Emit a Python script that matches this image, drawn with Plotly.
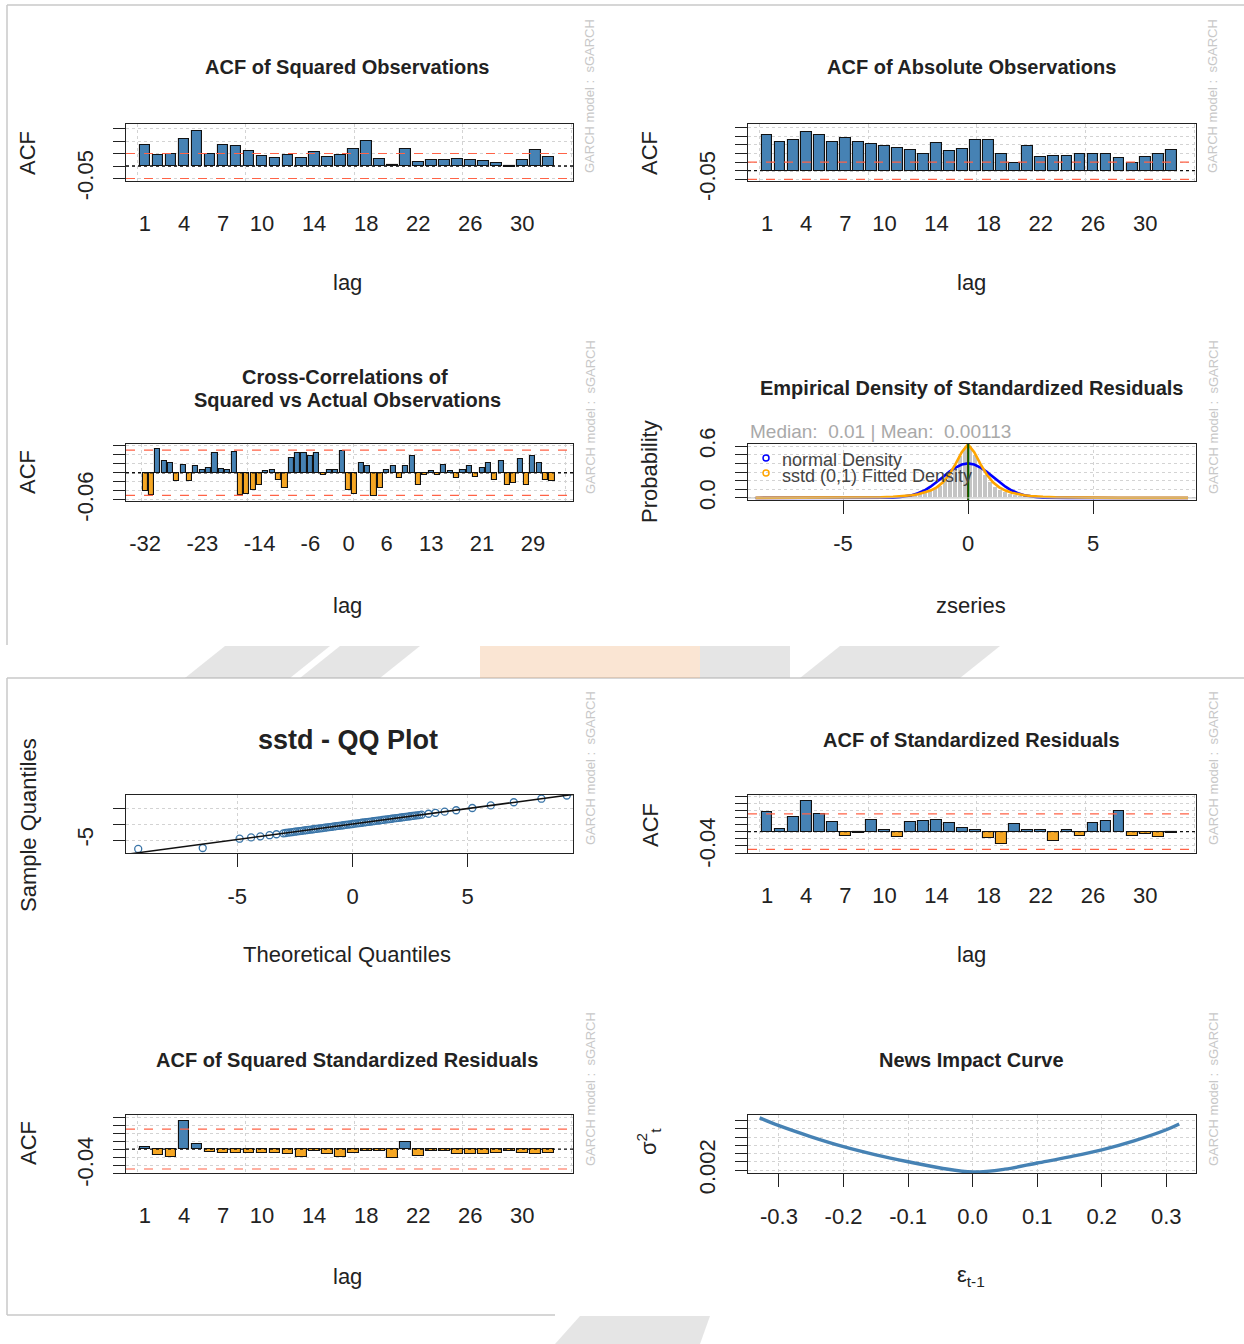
import plotly.graph_objects as go

W, H = 1244, 1344
FONT = "Liberation Sans, Arial, sans-serif"
TXT = "#222222"
STEEL = "#4682B4"
ORANGE = "#F5A623"
CONF = 0.05

# ---------------- data ----------------
lags = list(range(1, 33))
acf_sq_obs = [0.085, 0.046, 0.05, 0.11, 0.14, 0.05, 0.085, 0.08, 0.06, 0.04, 0.033, 0.046,
              0.033, 0.055, 0.037, 0.046, 0.068, 0.10, 0.03, 0.003, 0.07, 0.016, 0.026, 0.024,
              0.03, 0.024, 0.02, 0.013, -0.003, 0.026, 0.063, 0.037]
acf_abs_obs = [0.209, 0.164, 0.178, 0.226, 0.209, 0.164, 0.19, 0.164, 0.154, 0.144, 0.134, 0.119,
               0.095, 0.158, 0.115, 0.125, 0.178, 0.178, 0.099, 0.046, 0.144, 0.079, 0.085, 0.085,
               0.099, 0.099, 0.099, 0.075, 0.046, 0.079, 0.095, 0.119]
ccf_lags = list(range(-32, 33))
ccf_vals = [-0.041, -0.049, 0.053, 0.025, 0.022, -0.019, 0.018, -0.019, 0.014, 0.007, 0.011, 0.044,
            0.009, 0.007, 0.046, -0.049, -0.046, -0.037, -0.026, 0.004, 0.007, -0.015, -0.033, 0.033,
            0.044, 0.044, 0.037, 0.044, -0.004, 0.006, 0.007, 0.048, -0.037, -0.046, 0.022, 0.015,
            -0.052, -0.033, 0.007, 0.015, -0.011, 0.015, 0.037, -0.026, -0.005, 0.004, -0.005, 0.018,
            0.004, -0.011, 0.007, 0.015, -0.009, 0.011, 0.022, -0.015, 0.026, -0.026, -0.022, 0.03,
            -0.026, 0.037, 0.022, -0.015, -0.019]
acf_std_res = [0.055, 0.007, 0.04, 0.086, 0.05, 0.028, -0.012, -0.005, 0.033, 0.004, -0.015, 0.028,
               0.03, 0.033, 0.024, 0.01, 0.006, -0.017, -0.036, 0.021, 0.005, 0.004, -0.027, 0.004,
               -0.012, 0.024, 0.03, 0.057, -0.012, -0.006, -0.015, -0.003]
acf_sq_std_res = [0.004, -0.015, -0.02, 0.071, 0.012, -0.007, -0.01, -0.01, -0.009, -0.01, -0.009, -0.012,
                  -0.02, -0.006, -0.012, -0.02, -0.01, -0.005, -0.004, -0.022, 0.018, -0.017, -0.004, -0.005,
                  -0.012, -0.012, -0.012, -0.01, -0.004, -0.01, -0.012, -0.01]
acf_tick_labels = [1, 4, 7, 10, 14, 18, 22, 26, 30]
ccf_tick_labels = [-32, -23, -14, -6, 0, 6, 13, 21, 29]

hist_mid = [-2.9, -2.7, -2.5, -2.3, -2.1, -1.9, -1.7, -1.5, -1.3, -1.1, -0.9, -0.7, -0.5, -0.3, -0.1,
            0.1, 0.3, 0.5, 0.7, 0.9, 1.1, 1.3, 1.5, 1.7, 1.9, 2.1, 2.3, 2.5, 2.7, 2.9]
hist_dens = [0.01, 0.012, 0.018, 0.025, 0.03, 0.04, 0.055, 0.075, 0.10, 0.14, 0.20, 0.27, 0.36, 0.48, 0.58,
             0.60, 0.50, 0.37, 0.27, 0.19, 0.13, 0.095, 0.07, 0.05, 0.038, 0.028, 0.02, 0.015, 0.01, 0.008]
dens_x = [-8.5, -6, -4, -3.5, -3, -2.75, -2.5, -2.25, -2, -1.75, -1.5, -1.25, -1, -0.75, -0.5, -0.25, 0,
          0.25, 0.5, 0.75, 1, 1.25, 1.5, 1.75, 2, 2.25, 2.5, 2.75, 3, 3.5, 4, 6, 8.8]
normal_dens = [0, 0, 0.0001, 0.0009, 0.004, 0.009, 0.018, 0.032, 0.054, 0.086, 0.13, 0.183, 0.242, 0.301,
               0.352, 0.387, 0.399, 0.387, 0.352, 0.301, 0.242, 0.183, 0.13, 0.086, 0.054, 0.032, 0.018,
               0.009, 0.004, 0.0009, 0.0001, 0, 0]
sstd_dens = [0.0003, 0.001, 0.005, 0.008, 0.013, 0.017, 0.023, 0.031, 0.043, 0.06, 0.085, 0.122, 0.18,
             0.27, 0.39, 0.53, 0.62, 0.53, 0.39, 0.27, 0.18, 0.122, 0.085, 0.06, 0.043, 0.031, 0.023,
             0.017, 0.013, 0.008, 0.005, 0.001, 0.0003]
z_mean, z_median = 0.00113, 0.01

qq_theo = [-9.3, -6.5, -4.9, -4.4, -4.0, -3.6, -3.3,
           -3.0, -2.9, -2.8, -2.7, -2.6, -2.5, -2.4, -2.3, -2.2, -2.1, -2.0, -1.9, -1.8, -1.7, -1.6,
           -1.5, -1.4, -1.3, -1.2, -1.1, -1.0, -0.9, -0.8, -0.7, -0.6, -0.5, -0.4, -0.3, -0.2, -0.1,
           0.0, 0.1, 0.2, 0.3, 0.4, 0.5, 0.6, 0.7, 0.8, 0.9, 1.0, 1.1, 1.2, 1.3, 1.4, 1.5, 1.6, 1.7,
           1.8, 1.9, 2.0, 2.1, 2.2, 2.3, 2.4, 2.5, 2.6, 2.7, 2.8, 2.9, 3.0,
           3.3, 3.6, 4.0, 4.5, 5.2, 6.0, 7.0, 8.2, 9.3]
qq_sample = [-7.8, -7.5, -4.6, -4.2, -3.85, -3.5, -3.2,
             -2.92, -2.81, -2.71, -2.60, -2.52, -2.41, -2.32, -2.22, -2.13, -2.02, -1.94, -1.83, -1.74,
             -1.64, -1.55, -1.45, -1.35, -1.26, -1.16, -1.06, -0.97, -0.87, -0.77, -0.68, -0.58, -0.48,
             -0.39, -0.29, -0.19, -0.10, 0.00, 0.10, 0.19, 0.29, 0.39, 0.48, 0.58, 0.68, 0.77, 0.87,
             0.97, 1.06, 1.16, 1.26, 1.35, 1.45, 1.55, 1.64, 1.74, 1.83, 1.93, 2.03, 2.12, 2.22, 2.31,
             2.42, 2.51, 2.61, 2.70, 2.80, 2.90,
             3.2, 3.5, 3.85, 4.3, 5.0, 5.8, 6.8, 7.9, 8.9]

nic_eps = [-0.33, -0.3, -0.25, -0.2, -0.15, -0.1, -0.05, 0, 0.05, 0.1, 0.15, 0.2, 0.25, 0.3, 0.32]
nic_sigma2 = [0.0147, 0.0128, 0.0101, 0.0077, 0.0057, 0.0040, 0.0025, 0.0015, 0.0022, 0.0037, 0.0052,
              0.0069, 0.0091, 0.0118, 0.0132]

# ---------------- layout helpers ----------------
boxes = {
    1: ((126, 573), (124, 181)),
    2: ((748, 1196), (124, 181)),
    3: ((126, 573), (444, 501)),
    4: ((748, 1196), (444, 500)),
    5: ((126, 573), (795, 853)),
    6: ((748, 1196), (795, 853)),
    7: ((126, 573), (1115, 1173)),
    8: ((748, 1196), (1115, 1173)),
}


def px(x):
    return x / W


def py(y):
    return 1 - y / H


def acf_yrange(vals):
    lo = min([-CONF] + vals)
    hi = max([CONF] + vals)
    return [1.2 * lo, 1.2 * hi]


def quantile(vals, q):
    s = sorted(vals)
    pos = q * (len(s) - 1)
    i = int(pos)
    f = pos - i
    return s[i] + (s[min(i + 1, len(s) - 1)] - s[i]) * f


fig = go.Figure()
layout = dict(width=W, height=H, margin=dict(l=0, r=0, t=0, b=0, pad=0), autosize=False,
              paper_bgcolor="white", plot_bgcolor="white", showlegend=False,
              font=dict(family=FONT, color=TXT), bargap=0)
shapes = []
annotations = []

GRID = dict(gridcolor="#D3D3D3", griddash="dot", gridwidth=1)


def axname(n):
    return ("" if n == 1 else str(n))


def base_axis(n, is_x, rng, tickvals, ticktext, ticklen=12, tickcolor="#222", grid=True,
              minor_vals=None):
    (x0, x1), (y0, y1) = boxes[n]
    d = dict(range=rng, showline=True, mirror=True, linecolor="#222", linewidth=1.4,
             ticks="outside", ticklen=ticklen, tickcolor=tickcolor, tickwidth=1.2,
             tickvals=tickvals, ticktext=ticktext, tickmode="array",
             tickfont=dict(size=22, color=TXT, family=FONT),
             showgrid=grid, zeroline=False, fixedrange=True, automargin=False, **GRID)
    if minor_vals is not None:
        d["minor"] = dict(tickmode="array", tickvals=minor_vals, ticks="outside", ticklen=ticklen,
                          tickcolor=tickcolor, tickwidth=1.2, showgrid=True, **GRID)
    if is_x:
        d["domain"] = [px(x0), px(x1)]
        d["anchor"] = "y" + axname(n)
        d["ticklabelstandoff"] = 10
    else:
        d["domain"] = [py(y1), py(y0)]
        d["anchor"] = "x" + axname(n)
        d["tickangle"] = -90
        d["ticklabelstandoff"] = 11
    return d


def add_acf_panel(n, xs, vals, xr, tick_lab, ygrid_step, ylab_val, ylab_txt, bar_w, minor0, minordt):
    colors = [STEEL if v >= 0 else ORANGE for v in vals]
    fig.add_trace(go.Bar(x=xs, y=vals, width=bar_w, xaxis="x" + axname(n), yaxis="y" + axname(n),
                         marker=dict(color=colors, line=dict(color="#111", width=1.1)),
                         hoverinfo="skip"))
    yr = acf_yrange(vals)
    k0 = int(round(yr[0] / ygrid_step + 0.4999))
    k1 = int(yr[1] / ygrid_step)
    yt = [round(k * ygrid_step, 6) for k in range(k0, k1 + 1)]
    xa = base_axis(n, True, xr, tick_lab, [str(t) for t in tick_lab], ticklen=12,
                   tickcolor="rgba(0,0,0,0)", grid=False)
    xa["minor"] = dict(tick0=minor0, dtick=minordt, showgrid=True, ticks="", **GRID)
    layout["xaxis" + axname(n)] = xa
    layout["yaxis" + axname(n)] = base_axis(n, False, yr, [ylab_val], [ylab_txt], minor_vals=yt)
    for c in (CONF, -CONF):
        shapes.append(dict(type="line", xref="x" + axname(n) + " domain", yref="y" + axname(n),
                           x0=0, x1=1, y0=c, y1=c, line=dict(color="#FF6347", width=1.2, dash="dash"),
                           layer="above"))
    shapes.append(dict(type="line", xref="x" + axname(n) + " domain", yref="y" + axname(n),
                       x0=0, x1=1, y0=0, y1=0, line=dict(color="#111", width=1.3, dash="dot"),
                       layer="above"))


ACF_XR = [-0.46, 33.9]
add_acf_panel(1, lags, acf_sq_obs, ACF_XR, acf_tick_labels, 0.05, -0.05, "-0.05", 0.83, 0.4167, 8.3333)
add_acf_panel(2, lags, acf_abs_obs, ACF_XR, acf_tick_labels, 0.05, -0.05, "-0.05", 0.83, 0.4167, 8.3333)
add_acf_panel(3, ccf_lags, ccf_vals, [-35, 35.3], ccf_tick_labels, 0.02, -0.06, "-0.06", 0.8, -32.58, 16.667)
add_acf_panel(6, lags, acf_std_res, ACF_XR, acf_tick_labels, 0.02, -0.04, "-0.04", 0.83, 0.4167, 8.3333)
add_acf_panel(7, lags, acf_sq_std_res, ACF_XR, acf_tick_labels, 0.02, -0.04, "-0.04", 0.83, 0.4167, 8.3333)

# ---- panel 4: density ----
fig.add_trace(go.Bar(x=hist_mid, y=hist_dens, width=0.2, xaxis="x4", yaxis="y4",
                     marker=dict(color="#C4C4C4", line=dict(color="white", width=1)), hoverinfo="skip"))
fig.add_trace(go.Scatter(x=dens_x, y=normal_dens, mode="lines", xaxis="x4", yaxis="y4",
                         line=dict(color="#0000FF", width=2.6), hoverinfo="skip"))
fig.add_trace(go.Scatter(x=dens_x, y=sstd_dens, mode="lines", xaxis="x4", yaxis="y4",
                         line=dict(color="#FFA500", width=2.6), hoverinfo="skip"))
dens_yt = [0, 0.1, 0.2, 0.3, 0.4, 0.5, 0.6]
layout["xaxis4"] = base_axis(4, True, [-8.8, 9.12], [-5, 0, 5], ["-5", "0", "5"], ticklen=13)
layout["yaxis4"] = base_axis(4, False, [-0.024, 0.624], [0, 0.6], ["0.0", "0.6"], minor_vals=dens_yt)
for xv, col in ((z_mean, "#FF0000"), (z_median, "#006400")):
    shapes.append(dict(type="line", xref="x4", yref="y4 domain", x0=xv, x1=xv, y0=0, y1=1,
                       line=dict(color=col, width=2), layer="above"))
shapes.append(dict(type="line", xref="x4 domain", yref="y4", x0=0, x1=1, y0=0, y1=0,
                   line=dict(color="#BEBEBE", width=1), layer="above"))

# ---- panel 5: QQ ----
q1t, q3t = quantile(qq_theo, 0.25), quantile(qq_theo, 0.75)
q1s, q3s = quantile(qq_sample, 0.25), quantile(qq_sample, 0.75)
slope = (q3s - q1s) / (q3t - q1t)
icpt = q1s - slope * q1t
line_x = [-11, 11]
fig.add_trace(go.Scatter(x=qq_theo, y=qq_sample, mode="markers", xaxis="x5", yaxis="y5",
                         marker=dict(symbol="circle-open", size=7, color="#3A75A8", line=dict(width=1.3)),
                         hoverinfo="skip"))
fig.add_trace(go.Scatter(x=line_x, y=[icpt + slope * v for v in line_x], mode="lines", xaxis="x5",
                         yaxis="y5", line=dict(color="#111", width=1.5), hoverinfo="skip"))
layout["xaxis5"] = base_axis(5, True, [-9.83, 9.57], [-5, 0, 5], ["-5", "0", "5"], ticklen=13)
layout["yaxis5"] = base_axis(5, False, [-9.06, 9.06], [-5], ["-5"], minor_vals=[-5, 0, 5])

# ---- panel 8: news impact ----
fig.add_trace(go.Scatter(x=nic_eps, y=nic_sigma2, mode="lines", xaxis="x8", yaxis="y8",
                         line=dict(color=STEEL, width=3.4, shape="spline"), hoverinfo="skip"))
nic_xt = [-0.3, -0.2, -0.1, 0.0, 0.1, 0.2, 0.3]
nic_yt = [0.002, 0.004, 0.006, 0.008, 0.010, 0.012, 0.014]
layout["xaxis8"] = base_axis(8, True, [-0.348, 0.346], nic_xt, [f"{v:.1f}" for v in nic_xt], ticklen=13)
layout["yaxis8"] = base_axis(8, False, [0.00127, 0.0154], [0.002], ["0.002"], minor_vals=nic_yt)


# ---------------- text ----------------
def ann(text, x, y, size=22, color=TXT, angle=0, xanchor="center", bold=False):
    annotations.append(dict(text=("<b>%s</b>" % text) if bold else text, x=px(x), y=py(y),
                            xref="paper", yref="paper", showarrow=False, textangle=angle,
                            xanchor=xanchor, yanchor="middle",
                            font=dict(size=size, color=color, family=FONT)))


ann("ACF of Squared Observations", 347, 67, 20, bold=True)
ann("ACF of Absolute Observations", 971, 67, 20, bold=True)
ann("Cross-Correlations of", 345, 377, 20, bold=True)
ann("Squared vs Actual Observations", 347, 400, 20, bold=True)
ann("Empirical Density of Standardized Residuals", 971, 388, 20, bold=True)
ann("sstd - QQ Plot", 348, 740, 27, bold=True)
ann("ACF of Standardized Residuals", 971, 740, 20, bold=True)
ann("ACF of Squared Standardized Residuals", 347, 1060, 20, bold=True)
ann("News Impact Curve", 971, 1060, 20, bold=True)

for (x, y, t) in [(347, 283, "lag"), (971, 283, "lag"), (347, 605, "lag"), (971, 605, "zseries"),
                  (347, 954, "Theoretical Quantiles"), (971, 954, "lag"), (347, 1276, "lag"),
                  (971, 1276, "ε<sub>t-1</sub>")]:
    ann(t, x, y, 22)
for (x, y, t) in [(28, 153, "ACF"), (650, 153, "ACF"), (28, 472, "ACF"), (650, 472, "Probability"),
                  (28, 825, "Sample Quantiles"), (650, 825, "ACF"), (28, 1143, "ACF"),
                  (648, 1142, "σ<sup>2</sup><sub>t</sub>")]:
    ann(t, x, y, 22, angle=-90)

ann("Median:  0.01 | Mean:  0.00113", 748, 432, 19, color="#A9A9A9", xanchor="left")
ann("normal Density", 780, 460, 18, color="#444", xanchor="left")
ann("sstd (0,1) Fitted Density", 780, 476, 18, color="#444", xanchor="left")
shapes.append(dict(type="circle", xref="paper", yref="paper", x0=px(763), x1=px(769),
                   y0=py(461), y1=py(455), line=dict(color="#0000FF", width=1.5)))
shapes.append(dict(type="circle", xref="paper", yref="paper", x0=px(763), x1=px(769),
                   y0=py(476), y1=py(470), line=dict(color="#FFA500", width=1.5)))

for (x, y) in [(590, 96), (1213, 96), (590, 417), (1213, 417), (590, 768), (1213, 768),
               (590, 1089), (1213, 1089)]:
    ann("GARCH model :  sGARCH", x, y, 13, color="#C8C8C8", angle=-90)

# ---------------- screenshot frame and watermark band ----------------
FR = "#C8C8C8"
for (a, b, c, d) in [(7, 5, 1244, 5), (7, 5, 7, 645), (7, 678, 1244, 678), (7, 678, 7, 1315),
                     (7, 1315, 555, 1315)]:
    shapes.append(dict(type="line", xref="paper", yref="paper", x0=px(a), y0=py(b), x1=px(c), y1=py(d),
                       line=dict(color=FR, width=1.5), layer="below"))
band_polys = [
    [(185, 678), (225, 646), (330, 646), (290, 678)],
    [(300, 678), (340, 646), (420, 646), (380, 678)],
    [(700, 678), (700, 646), (790, 646), (790, 678)],
    [(800, 678), (840, 646), (1000, 646), (960, 678)],
]
for poly in band_polys:
    path = "M " + " L ".join("%f,%f" % (px(x), py(y)) for x, y in poly) + " Z"
    shapes.append(dict(type="path", xref="paper", yref="paper", path=path,
                       fillcolor="rgba(180,180,180,0.35)", line=dict(width=0), layer="below"))
shapes.append(dict(type="rect", xref="paper", yref="paper", x0=px(480), x1=px(700), y0=py(678), y1=py(646),
                   fillcolor="rgba(240,170,110,0.30)", line=dict(width=0), layer="below"))
shapes.append(dict(type="path", xref="paper", yref="paper",
                   path="M %f,%f L %f,%f L %f,%f L %f,%f Z" % (px(555), py(1344), px(580), py(1316),
                                                               px(710), py(1316), px(700), py(1344)),
                   fillcolor="rgba(180,180,180,0.35)", line=dict(width=0), layer="below"))

layout["shapes"] = shapes
layout["annotations"] = annotations
fig.update_layout(**layout)

# pin the figure to the top-left corner of the page so that it fills the window exactly
POST = """
document.documentElement.style.margin = '0';
document.documentElement.style.overflow = 'hidden';
document.body.style.margin = '0';
document.body.style.padding = '0';
document.body.style.overflow = 'hidden';
var gd = document.getElementById('{plot_id}');
gd.style.position = 'fixed';
gd.style.left = '0px';
gd.style.top = '0px';
"""
fig.write_html("out.html", post_script=POST, config={"displayModeBar": False})
